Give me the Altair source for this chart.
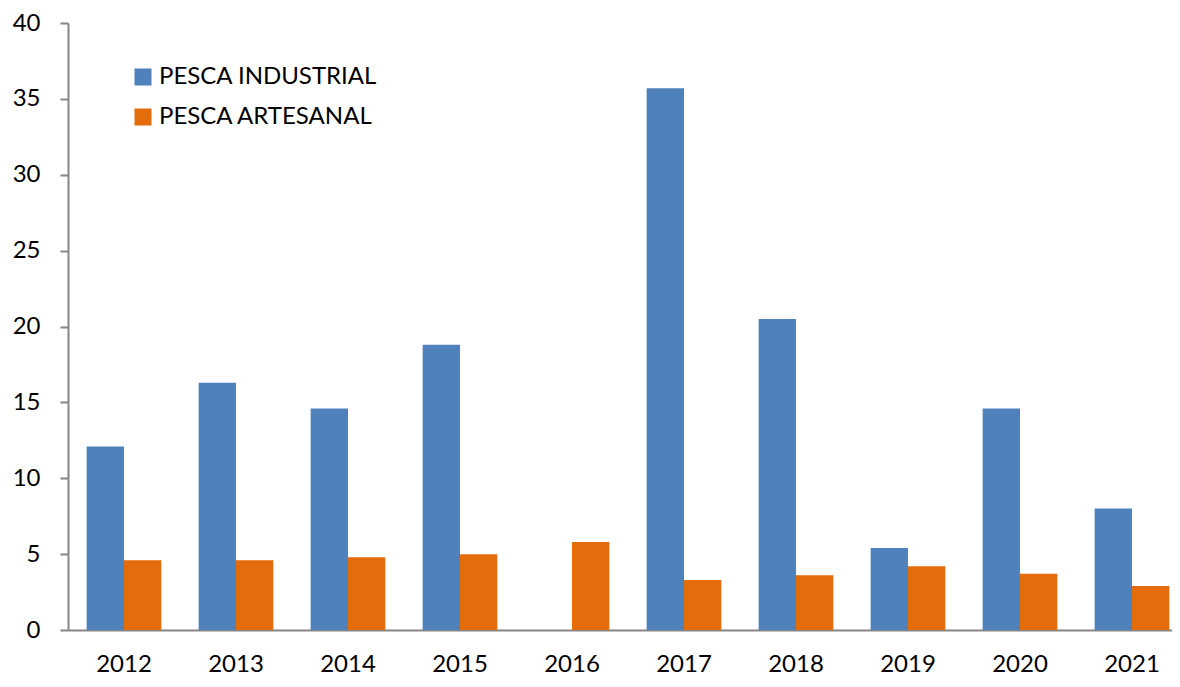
import altair as alt
import pandas as pd

years = ["2012", "2013", "2014", "2015", "2016", "2017", "2018", "2019", "2020", "2021"]
industrial = [12.1, 16.3, 14.6, 18.8, 0.0, 35.7, 20.5, 5.4, 14.6, 8.0]
artesanal = [4.6, 4.6, 4.8, 5.0, 5.8, 3.3, 3.6, 4.2, 3.7, 2.9]
series = ["PESCA INDUSTRIAL", "PESCA ARTESANAL"]
colors = ["#4F81BD", "#E46C0A"]

rows = []
for i, y in enumerate(years):
    rows.append({"year": y, "serie": series[0], "value": industrial[i]})
    rows.append({"year": y, "serie": series[1], "value": artesanal[i]})
df = pd.DataFrame(rows)

FONT = "Lato"
GRAY = "#868686"

chart = alt.Chart(df).mark_bar().encode(
    x=alt.X("year:N", sort=years, title=None,
            scale=alt.Scale(paddingInner=1/3, paddingOuter=1/6),
            axis=alt.Axis(labelAngle=0, ticks=False, domainColor=GRAY, domainWidth=2,
                          labelFont=FONT, labelFontSize=24, labelColor="#000000",
                          labelPadding=22, labelBaseline="top")),
    xOffset=alt.XOffset("serie:N", sort=series,
                        scale=alt.Scale(paddingInner=0, paddingOuter=0)),
    y=alt.Y("value:Q", title=None,
            scale=alt.Scale(domain=[0, 40], nice=False),
            axis=alt.Axis(values=[0, 5, 10, 15, 20, 25, 30, 35, 40], grid=False,
                          domainColor=GRAY, domainWidth=2, tickColor=GRAY, tickWidth=2,
                          tickSize=8, labelFont=FONT, labelFontSize=24, labelColor="#000000",
                          labelPadding=20)),
    color=alt.Color("serie:N", sort=series,
                    scale=alt.Scale(domain=series, range=colors),
                    legend=alt.Legend(title=None, orient="none", legendX=63, legendY=42,
                                      symbolType="square", symbolSize=289,
                                      symbolStrokeWidth=0, labelFont=FONT,
                                      labelFontSize=24, labelColor="#000000",
                                      labelLimit=500, labelOffset=4, rowPadding=16)),
).properties(
    width=1120, height=607,
    autosize=alt.AutoSizeParams(type="none"),
    padding={"left": 60, "top": 15, "right": -16, "bottom": 46},
).configure_view(stroke=None)

chart.save("out.html", embed_options={"renderer": "svg", "actions": False})
